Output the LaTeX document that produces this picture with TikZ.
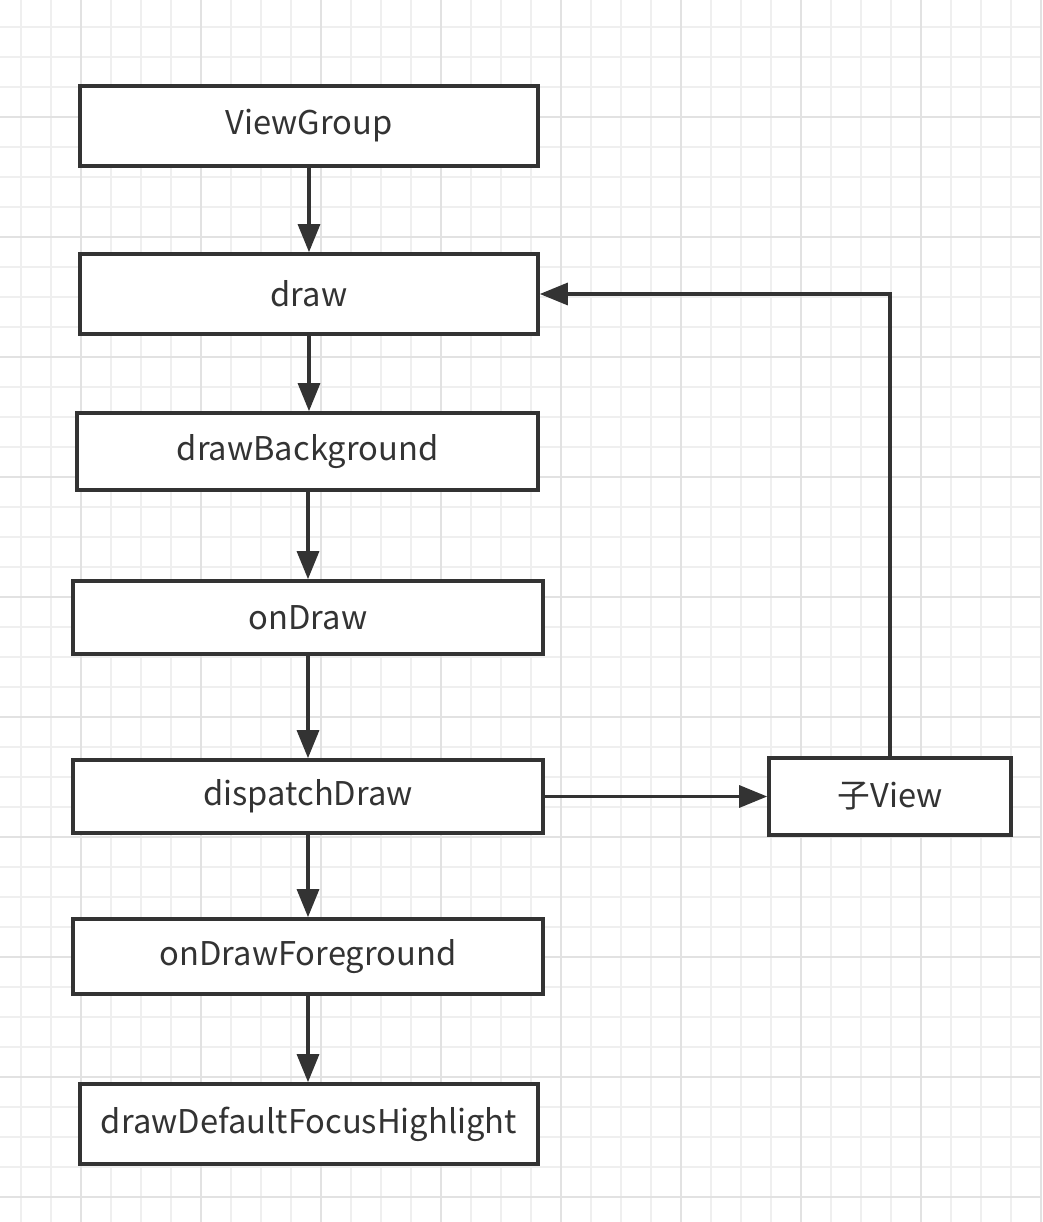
\documentclass[tikz,border=0pt]{standalone}
\usepackage{fontspec}
\setmainfont{Noto Sans CJK SC}
\usetikzlibrary{arrows.meta}
\definecolor{gridminor}{HTML}{EFEFEF}
\definecolor{gridmajor}{HTML}{E2E2E2}
\definecolor{ink}{HTML}{333333}
\tikzstyle{box}=[draw=ink, line width=2.1pt, fill=white, text=ink, inner sep=0pt, font=\fontsize{18.6}{22}\selectfont]
\tikzstyle{flow}=[draw=ink, line width=1.8pt, -{Triangle[length=0.56cm, width=0.44cm]}]

\begin{document}
\begin{tikzpicture}[x=0.02cm, y=-0.02cm]
    \useasboundingbox (0,0) rectangle (1042,1222);
    \fill[white] (0,0) rectangle (1042,1222);
    % grid paper
    \foreach \x in {21,51,...,1041} \draw[gridminor, line width=0.8pt] (\x,0) -- (\x,1222);
    \foreach \y in {27,57,...,1217} \draw[gridminor, line width=0.8pt] (0,\y) -- (1042,\y);
    \foreach \x in {81,201,...,1041} \draw[gridmajor, line width=1pt] (\x,0) -- (\x,1222);
    \foreach \y in {117,237,...,1197} \draw[gridmajor, line width=1pt] (0,\y) -- (1042,\y);

    \node[box, minimum width=9.16cm, minimum height=1.6cm] (viewgroup) at (309,126) {ViewGroup};
    \node[box, minimum width=9.16cm, minimum height=1.6cm] (draw) at (309,294) {draw};
    \node[box, minimum width=9.22cm, minimum height=1.54cm] (background) at (307.5,451.5) {drawBackground};
    \node[box, minimum width=9.4cm, minimum height=1.46cm] (ondraw) at (308,617.5) {onDraw};
    \node[box, minimum width=9.4cm, minimum height=1.46cm] (dispatch) at (308,796.5) {dispatchDraw};
    \node[box, minimum width=9.4cm, minimum height=1.5cm] (foreground) at (308,956.5) {onDrawForeground};
    \node[box, minimum width=9.16cm, minimum height=1.6cm] (focus) at (309,1124) {drawDefaultFocusHighlight};
    \node[box, minimum width=4.84cm, minimum height=1.54cm] (child) at (890,796.5) {子View};

    \draw[flow] (viewgroup.south) -- (viewgroup.south |- draw.north);
    \draw[flow] (draw.south) -- (draw.south |- background.north);
    \draw[flow] (ondraw.north |- background.south) -- (ondraw.north);
    \draw[flow] (ondraw.south) -- (dispatch.north);
    \draw[flow] (dispatch.south) -- (foreground.north);
    \draw[flow] (foreground.south) -- (foreground.south |- focus.north);
    \draw[flow] (dispatch.east) -- (child.west);
    \draw[flow] (child.north) |- (draw.east);
\end{tikzpicture}
\end{document}
